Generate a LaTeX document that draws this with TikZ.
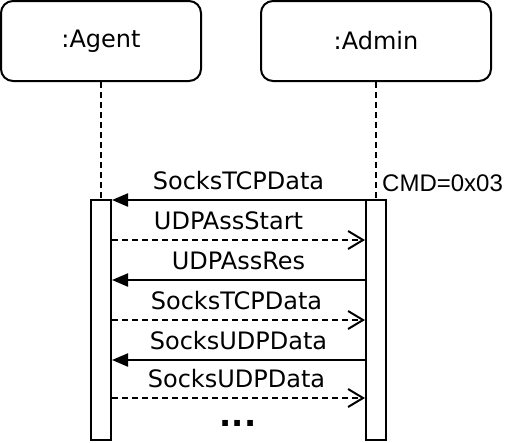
\documentclass[tikz,border=0pt]{standalone}
\usepackage{fontspec}
\setmainfont{DejaVu Sans}
\newfontfamily\cmdfont{Liberation Sans}
\usetikzlibrary{arrows.meta}

\tikzset{
  head/.style={draw,rounded corners=12pt,line width=2pt,minimum height=80pt,inner sep=0pt},
  bar/.style={draw,fill=white,line width=2pt,minimum width=20pt,minimum height=240pt,inner sep=0pt},
  life/.style={line width=2pt,dash pattern=on 6pt off 4pt},
  call/.style={line width=2pt,-{Triangle[length=16pt,width=13pt]}},
  reply/.style={line width=2pt,dash pattern=on 6pt off 4pt,-{Straight Barb[length=15pt,width=18pt,line width=2pt]}},
  msg/.style={midway,above=8pt,inner sep=1pt}
}

\begin{document}
\begin{tikzpicture}[x=1pt,y=-1pt,font=\fontsize{24}{28}\selectfont]

\useasboundingbox (0,0) rectangle (506,442);

\node[head,minimum width=200pt] (agent) at (101,41) {:Agent};
\node[head,minimum width=230pt] (admin) at (376,41) {:Admin};

\node[bar] (agtbar) at (101,320) {};
\node[bar] (admbar) at (376,320) {};

\draw[life] (agent.south) -- (agtbar.north);
\draw[life] (admin.south) -- (admbar.north);

\node[font=\fontsize{24}{28}\selectfont\cmdfont,anchor=base west,inner sep=0pt] (cmd) at ([xshift=-5pt,yshift=8pt]admbar.north east) {CMD=0x03};

\draw[call] ([yshift=-1pt]admbar.north west) -- ([yshift=-1pt]agtbar.north east) node[msg]{SocksTCPData};

\draw[reply] ([yshift=-41pt]agtbar.north east) -- ([yshift=-41pt]admbar.north west) node[msg,xshift=-10pt]{UDPAssStart};

\draw[call] ([yshift=-81pt]admbar.north west) -- ([yshift=-81pt]agtbar.north east) node[msg]{UDPAssRes};

\draw[reply] ([yshift=-121pt]agtbar.north east) -- ([yshift=-121pt]admbar.north west) node[msg,xshift=-2pt]{SocksTCPData};

\draw[call] ([yshift=-161pt]admbar.north west) -- ([yshift=-161pt]agtbar.north east) node[msg]{SocksUDPData};

\draw[reply] ([yshift=-199pt]agtbar.north east) -- ([yshift=-199pt]admbar.north west) node[msg,xshift=-2pt]{SocksUDPData};

\node[font=\fontsize{32}{36}\selectfont\bfseries,anchor=base] (more) at (238,426) {...};

\end{tikzpicture}
\end{document}
